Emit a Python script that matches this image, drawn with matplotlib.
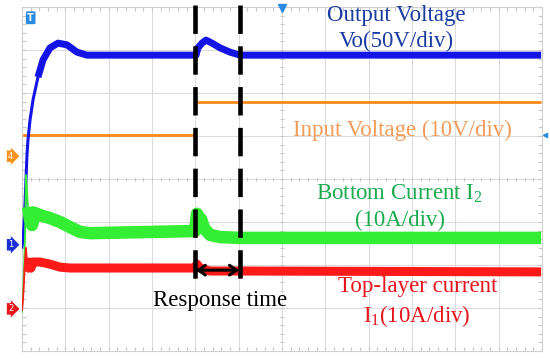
import numpy as np
import matplotlib

matplotlib.use("Agg")
import matplotlib.pyplot as plt

plt.rcParams["font.family"] = ["Liberation Serif", "DejaVu Serif"]
plt.rcParams["mathtext.fontset"] = "custom"
plt.rcParams["mathtext.rm"] = "Liberation Serif"
plt.rcParams["mathtext.it"] = "Liberation Serif"

# scope traces, in screen divisions (12 x 8 grid)
vo_t = [0, 0.023, 0.046, 0.069, 0.092, 0.115, 0.138, 0.185, 0.254, 0.369, 0.485, 0.646, 0.831,
        1.038, 1.269, 1.500, 4.016, 4.062, 4.154, 4.246, 4.385, 4.570, 4.800, 5.031, 11.98]
vo_v = [2.42, 2.58, 2.93, 3.40, 3.98, 4.56, 4.91, 5.37, 5.84, 6.37, 6.77, 7.05, 7.16,
        7.12, 6.95, 6.88, 6.88, 7.05, 7.16, 7.23, 7.16, 7.05, 6.95, 6.88, 6.88]

vin_t = [0, 3.99, 4.04, 11.98]
vin_v = [5.02, 5.02, 5.80, 5.80]

i2_t = [0, 0.023, 0.046, 0.069, 0.081, 0.092, 0.115, 0.138, 0.185, 0.231, 0.300, 0.415, 0.646,
        0.877, 1.108, 1.338, 1.569, 3.993, 4.039, 4.085, 4.131, 4.200, 4.339, 4.570, 5.031, 11.98]
i2_v = [0.91, 1.30, 1.88, 2.63, 3.40, 4.09, 3.74, 3.35, 3.05, 2.93, 3.21, 3.16, 3.09,
        3.00, 2.88, 2.77, 2.74, 2.79, 3.19, 3.00, 3.07, 2.86, 2.70, 2.65, 2.63, 2.63]

i1_t = [0, 0.023, 0.046, 0.069, 0.092, 0.115, 0.138, 0.162, 0.208, 0.254, 0.415, 0.646, 0.877,
        1.108, 3.993, 4.039, 4.108, 4.339, 5.031, 11.98]
i1_v = [0.95, 1.19, 1.60, 2.12, 2.40, 2.07, 1.84, 2.07, 1.93, 2.07, 2.07, 2.02, 1.95,
        1.93, 1.93, 2.02, 1.93, 1.86, 1.86, 1.84]

resp_start, resp_end = 3.99, 5.03
channel_marks = [("4", 4.53, "#f7941d"), ("1", 2.47, "#1a2fd6"), ("2", 0.98, "#e8141c")]

fig = plt.figure(figsize=(5.5, 3.59), dpi=100)
ax = fig.add_axes([22 / 550, 8 / 359, 520 / 550, 344 / 359])
ax.set_xlim(0, 12)
ax.set_ylim(0, 8)

# graticule
for x in range(1, 12):
    ax.axvline(x, color="#dcdcdc", lw=0.8, zorder=0)
for y in range(1, 8):
    ax.axhline(y, color="#dcdcdc", lw=0.8, zorder=0)
minor = np.arange(0, 12.01, 0.2)
ax.vlines(minor, 4 - 0.05, 4 + 0.05, color="#c8c8c8", lw=0.7, zorder=0)
minor_y = np.arange(0, 8.01, 0.2)
ax.hlines(minor_y, 6 - 0.04, 6 + 0.04, color="#c8c8c8", lw=0.7, zorder=0)
ax.set_xticks(minor)
ax.set_yticks(minor_y)
ax.tick_params(which="both", direction="in", length=3, color="#c8c8c8",
               top=True, right=True, labelleft=False, labelbottom=False)
for s in ax.spines.values():
    s.set_color("#d0d0d0")
    s.set_linewidth(0.8)


def trace(t, v, color, band, thin, start):
    # thin edge for the fast start-up, noise band once the trace settles
    ax.plot(t[:start + 1], v[:start + 1], color=color, lw=thin, zorder=3)
    ax.plot(t[start:], v[start:], color=color, lw=band, solid_joinstyle="round",
            solid_capstyle="butt", zorder=3)


ax.plot(vin_t[:2], vin_v[:2], color="#ff8a1a", lw=2, solid_capstyle="butt", zorder=2)
ax.plot(vin_t[2:], vin_v[2:], color="#ff8a1a", lw=2, solid_capstyle="butt", zorder=2)
trace(vo_t, vo_v, "#1414e6", 5, 2.2, 9)
trace(i2_t, i2_v, "#33ee33", 9, 1.3, 7)
trace(i1_t, i1_v, "#ff1a1a", 6.5, 1.3, 6)

for x in (resp_start, resp_end):
    ax.plot([x, x], [8.05, 1.65], color="black", lw=3.3, dashes=(6.2, 2.7),
            clip_on=False, zorder=5)
ax.annotate("", xy=(resp_start + 0.02, 1.88), xytext=(resp_end - 0.02, 1.88),
            arrowprops=dict(arrowstyle="<->,head_length=0.5,head_width=0.35",
                            color="black", lw=2.2, shrinkA=0, shrinkB=0), zorder=6)

fs = 16.5
ax.text(8.63, 7.80, "Output Voltage", color="#1a3ca0", fontsize=fs, ha="center", va="center")
ax.text(8.63, 7.19, "Vo(50V/div)", color="#1a3ca0", fontsize=fs, ha="center", va="center")
ax.text(8.77, 5.12, "Input Voltage (10V/div)", color="#f39c5a", fontsize=fs, ha="center", va="center")
ax.text(8.72, 3.65, r"Bottom Current I$_{\mathrm{2}}$", color="#1aab4e", fontsize=fs, ha="center", va="center")
ax.text(8.72, 3.03, "(10A/div)", color="#1aab4e", fontsize=fs, ha="center", va="center")
ax.text(9.12, 1.49, "Top-layer current", color="#e8141c", fontsize=fs, ha="center", va="center")
ax.text(9.12, 0.82, r"I$_{\mathrm{1}}$(10A/div)", color="#e8141c", fontsize=fs, ha="center", va="center")
ax.text(4.57, 1.17, "Response time", color="black", fontsize=fs, ha="center", va="center")

# scope markers
for label, y, c in channel_marks:
    ax.text(-0.2, y, label, color="white", fontsize=6, fontfamily="DejaVu Sans",
            ha="right", va="center", clip_on=False,
            bbox=dict(boxstyle="rarrow,pad=0.15", fc=c, ec="none"))
ax.text(0.2, 7.75, "T", color="white", fontsize=7, fontweight="bold", fontfamily="DejaVu Sans",
        ha="center", va="center", bbox=dict(boxstyle="round,pad=0.15", fc="#2a8be0", ec="none"))
ax.plot([6], [7.97], marker="v", color="#2a8be0", ms=6, clip_on=False, zorder=6)
ax.plot([12.06], [5.03], marker="<", color="#2a8be0", ms=3, clip_on=False, zorder=6)

fig.savefig("out.png", dpi=100)
